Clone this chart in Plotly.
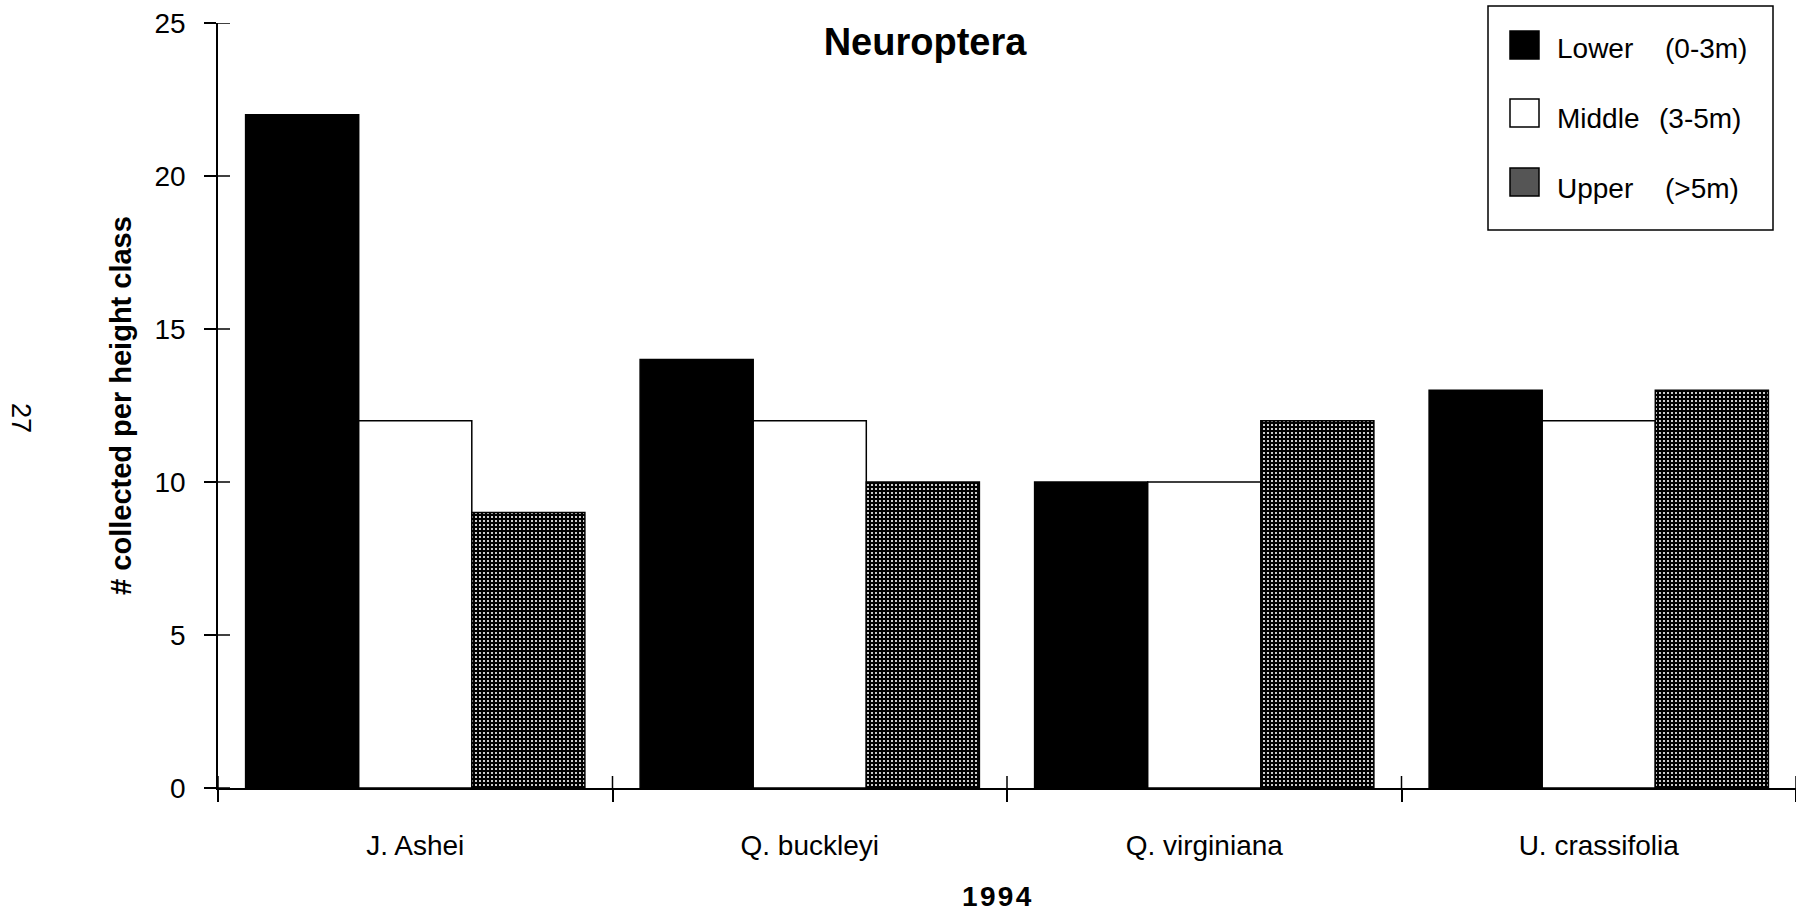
import plotly.graph_objects as go

# Neuroptera collected per tree species and canopy height class, 1994
species = ["J. Ashei", "Q. buckleyi", "Q. virginiana", "U. crassifolia"]
lower = [22, 14, 10, 13]
middle = [12, 12, 10, 12]
upper = [9, 10, 12, 13]
class_names = ["Lower", "Middle", "Upper"]
class_ranges = ["(0-3m)", "(3-5m)", "(>5m)"]
y_ticks = [0, 5, 10, 15, 20, 25]
boundaries = [-0.5, 0.5, 1.5, 2.5, 3.5]

W, H = 1796, 915
L, R, T, B = 218, 0, 23, 127
FONT = "Liberation Sans, Arial, Helvetica, sans-serif"


def px_x(p):
    """pixel column -> paper x"""
    return (p - L) / (W - L - R)


def px_y(p):
    """pixel row -> paper y"""
    return (H - B - p) / (H - T - B)


stipple = dict(shape=".", bgcolor="black", fgcolor="white",
               size=4, solidity=0.22, fillmode="replace")
outline = dict(color="black", width=1.5)

fig = go.Figure()
fig.add_trace(go.Bar(x=species, y=lower, name=class_names[0],
                     marker=dict(color="black", line=outline)))
fig.add_trace(go.Bar(x=species, y=middle, name=class_names[1],
                     marker=dict(color="white", line=outline)))
fig.add_trace(go.Bar(x=species, y=upper, name=class_names[2],
                     marker=dict(color="black", pattern=stipple, line=outline)))

axis_common = dict(showgrid=False, zeroline=False, linecolor="black",
                   tickcolor="black", tickwidth=1.5)

fig.update_layout(
    width=W, height=H,
    margin=dict(l=L, r=R, t=T, b=B, autoexpand=False),
    paper_bgcolor="white", plot_bgcolor="white",
    barmode="group", bargap=0.14, bargroupgap=0,
    showlegend=False,
    font=dict(family=FONT, color="black"),
    title=dict(text="<b>Neuroptera</b>", x=925 / W, y=1 - 42 / H,
               xref="container", yref="container",
               xanchor="center", yanchor="middle",
               font=dict(size=38, family=FONT, color="black")),
    xaxis=dict(axis_common, type="category", range=[-0.5, 3.5],
               showline=True, linewidth=1.5, ticks="outside",
               tickson="boundaries", ticklen=12,
               tickfont=dict(size=28), ticklabelstandoff=32),
    yaxis=dict(axis_common, range=[0, 25], tickvals=y_ticks,
               showline=True, linewidth=1.5, ticks="outside", ticklen=12,
               tickfont=dict(size=28), ticklabelstandoff=13,
               title=dict(text="<b># collected per height class</b>",
                          font=dict(size=29), standoff=14)),
)

# inward halves of the crossing tick marks on both axes
for v in y_ticks:
    fig.add_shape(type="line", xref="paper", xsizemode="pixel", xanchor=0,
                  x0=0, x1=12, yref="y", y0=v, y1=v,
                  line=dict(color="black", width=1.5))
for b in boundaries:
    fig.add_shape(type="line", xref="x", x0=b, x1=b, yref="paper",
                  ysizemode="pixel", yanchor=0, y0=0, y1=12,
                  line=dict(color="black", width=1.5))

# x-axis title and page number
fig.add_annotation(text="<b>1\u200a9\u200a9\u200a4</b>", x=px_x(997), y=px_y(896),
                   xref="paper", yref="paper", showarrow=False,
                   font=dict(size=28), xanchor="center", yanchor="middle")
fig.add_annotation(text="27", x=px_x(21), y=px_y(418), xref="paper",
                   yref="paper", showarrow=False, textangle=90,
                   font=dict(size=27), xanchor="center", yanchor="middle")

# legend box with swatches
fig.add_shape(type="rect", xref="paper", yref="paper",
              x0=px_x(1488), x1=px_x(1773), y0=px_y(230), y1=px_y(6),
              line=dict(color="black", width=1.5), fillcolor="white",
              layer="above")
text_rows = [48, 118, 188]
swatch_rows = [45, 113, 182]
swatch_fill = ["black", "white", "#555555"]
range_x = [1663, 1657, 1663]
for name, rng, cy, sy, fill, rx in zip(class_names, class_ranges, text_rows,
                                       swatch_rows, swatch_fill, range_x):
    fig.add_shape(type="rect", xref="paper", yref="paper",
                  x0=px_x(1510), x1=px_x(1539),
                  y0=px_y(sy + 14), y1=px_y(sy - 14),
                  line=dict(color="black", width=1.5), fillcolor=fill,
                  layer="above")
    fig.add_annotation(text=name, x=px_x(1555), y=px_y(cy), xref="paper",
                       yref="paper", showarrow=False, xanchor="left",
                       yanchor="middle", font=dict(size=28))
    fig.add_annotation(text=rng, x=px_x(rx), y=px_y(cy), xref="paper",
                       yref="paper", showarrow=False, xanchor="left",
                       yanchor="middle", font=dict(size=28))

fig.write_html("out.html")
